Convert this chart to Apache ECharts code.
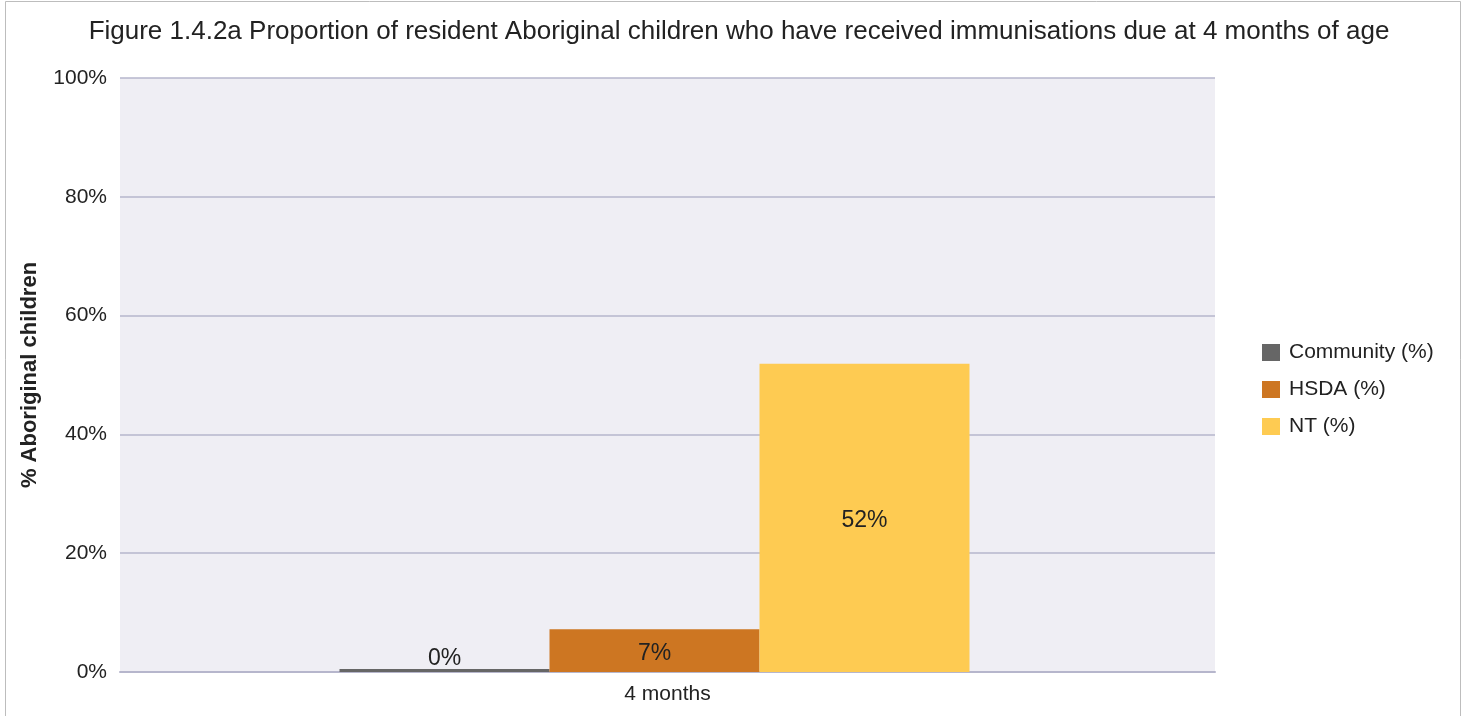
<!DOCTYPE html>
<html>
<head>
<meta charset="utf-8">
<script src="https://cdn.jsdelivr.net/npm/echarts@6/dist/echarts.min.js"></script>
<style>
html,body{margin:0;padding:0;background:#fff;}
#chart{width:1467px;height:716px;}
</style>
</head>
<body>
<div id="chart"></div>
<script>
var categories = ['4 months'];
var seriesNames = ['Community (%)', 'HSDA (%)', 'NT (%)'];
var communityValues = [0.5];
var communityLabels = ['0%'];
var hsdaValues = [7.2];
var hsdaLabels = ['7%'];
var ntValues = [51.9];
var ntLabels = ['52%'];
var yTicks = [0, 20, 40, 60, 80, 100];
var colors = ['#666666', '#cd7622', '#fecb52'];

var FONT = 'Liberation Sans, Arial, sans-serif';
var chart = echarts.init(document.getElementById('chart'));
function mk(name, vals, labels, color, pos) {
  return {
    name: name, type: 'bar', data: vals, barGap: '0%', barCategoryGap: '43.8%',
    xAxisIndex: 1, yAxisIndex: 1,
    itemStyle: { color: color },
    label: {
      show: true, position: pos, distance: 2, offset: [0, 3],
      formatter: function (p) { return labels[p.dataIndex]; },
      color: '#222', fontSize: 23, fontFamily: FONT
    },
    emphasis: { disabled: true }
  };
}
chart.setOption({
  animation: false,
  backgroundColor: '#ffffff',
  graphic: [{
    type: 'rect', shape: { x: 5.5, y: 1.5, width: 1455, height: 730 },
    style: { fill: null, stroke: '#bdbdbd', lineWidth: 1 }, silent: true, z: 100
  }],
  title: {
    text: 'Figure 1.4.2a Proportion of resident Aboriginal children who have received immunisations due at 4 months of age',
    left: 734, textAlign: 'center', top: 14,
    textStyle: { fontSize: 26, fontWeight: 'normal', color: '#222', fontFamily: FONT }
  },
  legend: {
    orient: 'vertical', left: 1257, top: 337, itemWidth: 18, itemHeight: 17, itemGap: 16,
    icon: 'rect',
    textStyle: { fontSize: 21, color: '#222', fontFamily: FONT, padding: [0, 0, 0, 4] },
    data: seriesNames
  },
  grid: [
    { left: 120, right: 252, top: 78, bottom: 44, containLabel: false, show: true, backgroundColor: '#efeef4', borderWidth: 0 },
    { left: 94, right: 252, top: 78, bottom: 44, containLabel: false, show: false }
  ],
  xAxis: [{
    type: 'category', data: categories, gridIndex: 0,
    axisLine: { show: true, lineStyle: { color: '#b6b6cc', width: 2 } },
    axisTick: { show: false },
    axisLabel: { fontSize: 21, color: '#222', margin: 12, fontFamily: FONT }
  }, {
    type: 'category', data: categories, gridIndex: 1, show: false
  }],
  yAxis: [{
    type: 'value', min: 0, max: 100, interval: 20, gridIndex: 0,
    name: '% Aboriginal children', nameLocation: 'middle', nameGap: 79, nameRotate: 90,
    nameTextStyle: { fontSize: 22, fontWeight: 'bold', color: '#222', fontFamily: FONT },
    axisLine: { show: false }, axisTick: { show: false },
    splitLine: { lineStyle: { color: '#b6b6cc', width: 1.5 } },
    axisLabel: {
      fontSize: 21, color: '#222', margin: 13, fontFamily: FONT,
      formatter: function (v) { return yTicks.indexOf(v) >= 0 ? v + '%' : ''; }
    }
  }, {
    type: 'value', min: 0, max: 100, interval: 20, gridIndex: 1, show: false, splitLine: { show: false }
  }],
  series: [
    mk(seriesNames[0], communityValues, communityLabels, colors[0], 'top'),
    mk(seriesNames[1], hsdaValues, hsdaLabels, colors[1], 'inside'),
    mk(seriesNames[2], ntValues, ntLabels, colors[2], 'inside')
  ]
});
</script>
</body>
</html>
